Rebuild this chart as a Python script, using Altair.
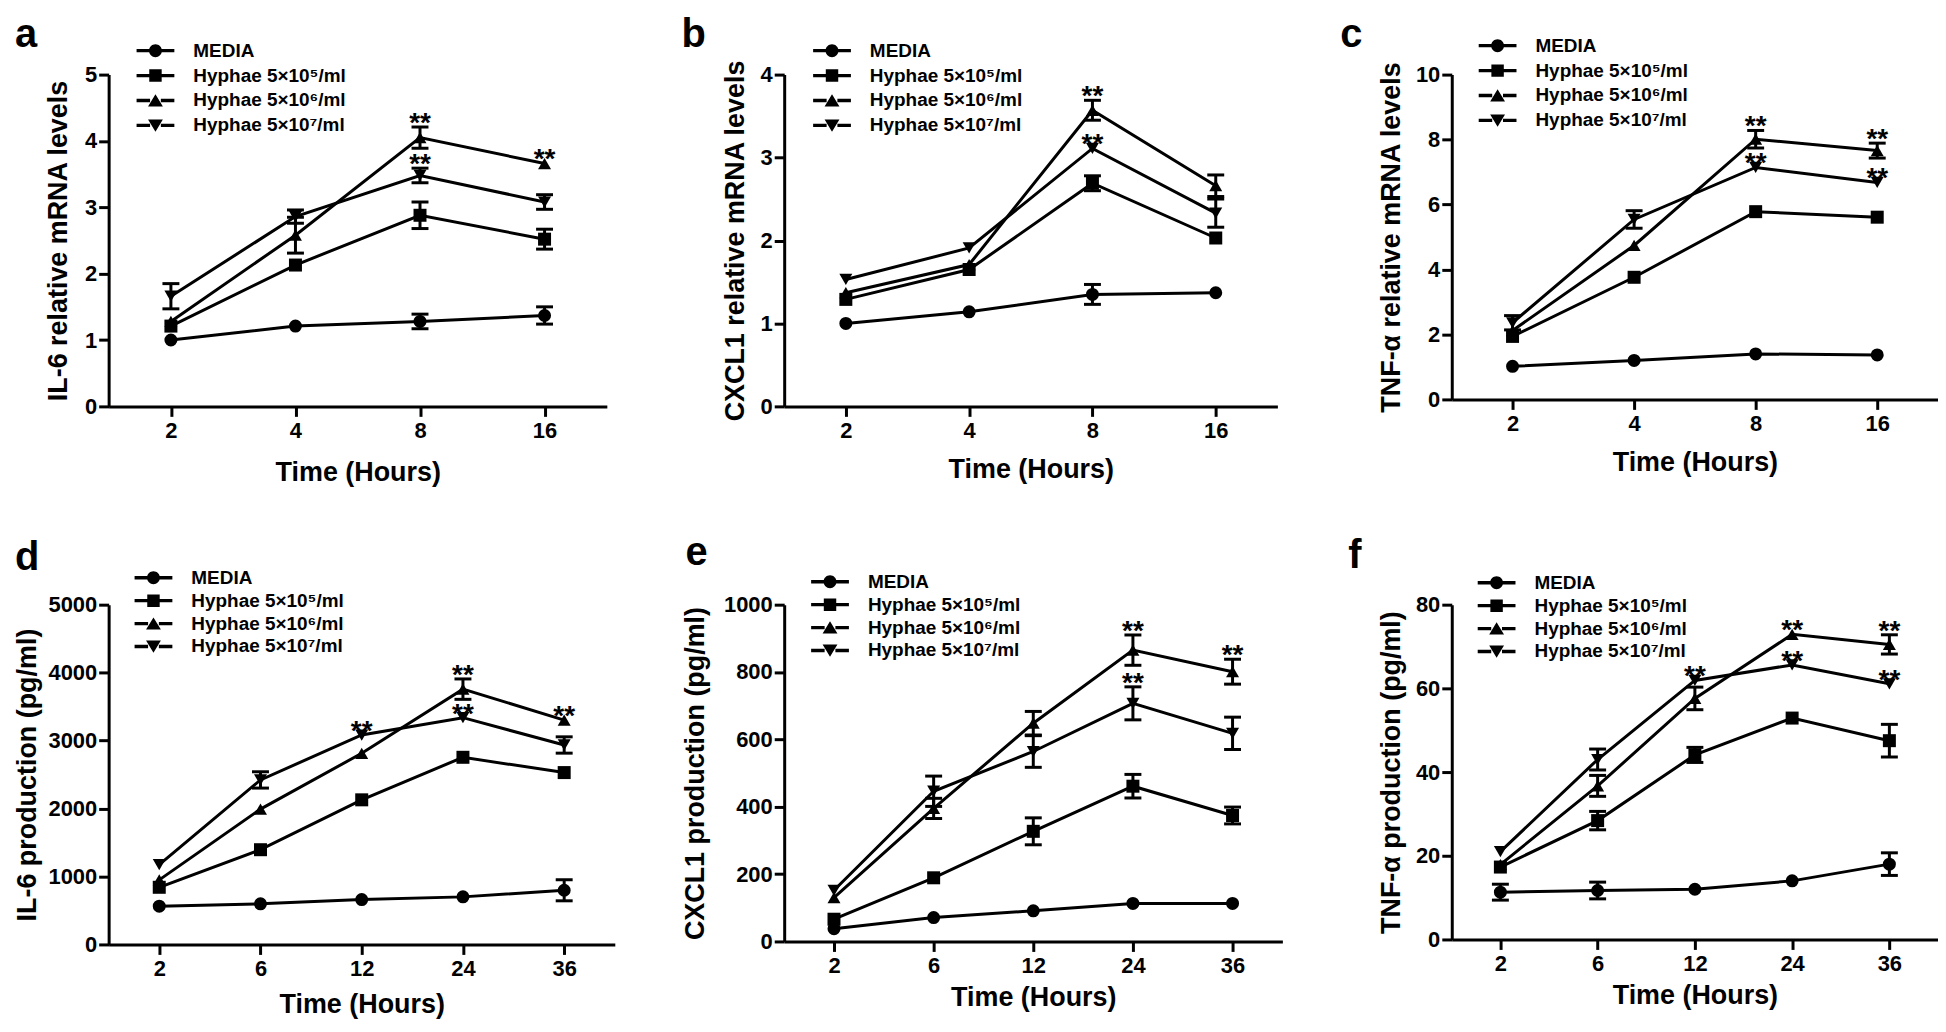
import altair as alt
import pandas as pd

FONT = "'Liberation Sans', Arial, sans-serif"

SERIES = ["MEDIA", "Hyphae 5×10⁵/ml", "Hyphae 5×10⁶/ml", "Hyphae 5×10⁷/ml"]
MARKERS = ["circle", "square", "triangle-up", "triangle-down"]
TIMES_MRNA = ["2", "4", "8", "16"]
TIMES_PROT = ["2", "6", "12", "24", "36"]

# a: IL-6 relative mRNA
A_MEAN = [[1.00, 1.21, 1.28, 1.37],
          [1.21, 2.13, 2.88, 2.52],
          [1.28, 2.58, 4.05, 3.66],
          [1.66, 2.86, 3.48, 3.08]]
A_ERR = [[0, 0, 0.11, 0.13],
         [0, 0, 0.20, 0.15],
         [0, 0.27, 0.16, 0],
         [0.19, 0.10, 0.11, 0.11]]
A_STARS = [("8", 2), ("8", 3), ("16", 2)]

# b: CXCL1 relative mRNA
B_MEAN = [[1.00, 1.14, 1.35, 1.37],
          [1.29, 1.65, 2.69, 2.03],
          [1.37, 1.71, 3.57, 2.66],
          [1.53, 1.91, 3.11, 2.33]]
B_ERR = [[0, 0, 0.12, 0],
         [0, 0, 0.09, 0],
         [0, 0, 0.12, 0.13],
         [0, 0, 0, 0.17]]
B_STARS = [("8", 2), ("8", 3)]

# c: TNF-a relative mRNA
C_MEAN = [[1.02, 1.20, 1.40, 1.37],
          [1.94, 3.76, 5.78, 5.61],
          [2.12, 4.74, 8.01, 7.66],
          [2.36, 5.54, 7.14, 6.68]]
C_ERR = [[0, 0, 0, 0],
         [0, 0, 0, 0],
         [0, 0, 0.27, 0.23],
         [0.22, 0.27, 0, 0]]
C_STARS = [("8", 2), ("8", 3), ("16", 2), ("16", 3)]

# d: IL-6 production
D_MEAN = [[563, 597, 660, 700, 797],
          [841, 1394, 2128, 2754, 2529],
          [950, 1991, 2813, 3757, 3302],
          [1174, 2421, 3082, 3337, 2935]]
D_ERR = [[0, 0, 0, 0, 155],
         [0, 0, 0, 0, 0],
         [0, 0, 0, 150, 0],
         [0, 120, 0, 0, 120]]
D_STARS = [("12", 3), ("24", 2), ("24", 3), ("36", 2)]

# e: CXCL1 production
E_MEAN = [[38, 71, 91, 113, 113],
          [66, 189, 327, 461, 374],
          [130, 395, 648, 865, 801],
          [152, 446, 564, 707, 618]]
E_ERR = [[0, 0, 0, 0, 0],
         [0, 0, 40, 35, 25],
         [0, 30, 35, 45, 37],
         [0, 45, 47, 49, 48]]
E_STARS = [("24", 2), ("24", 3), ("36", 2)]

# f: TNF-a production
F_MEAN = [[11.3, 11.7, 12.0, 14.0, 18.0],
          [17.3, 28.4, 44.1, 52.9, 47.5],
          [17.9, 36.7, 57.6, 72.9, 70.5],
          [21.0, 43.0, 61.9, 65.6, 61.1]]
F_ERR = [[1.9, 2.0, 0, 0, 2.7],
         [0, 2.2, 1.8, 0, 3.9],
         [0, 2.5, 2.7, 0, 2.3],
         [0, 2.5, 0, 0, 0]]
F_STARS = [("12", 3), ("24", 2), ("24", 3), ("36", 2), ("36", 3)]

# legend glyphs: short line with the marker in the middle (unit = 12 px)
LEG_LINE = "M-1.58,-0.14H-0.45V0.14H-1.58Z M0.45,-0.14H1.58V0.14H0.45Z "
LEGEND_PATHS = [
    LEG_LINE + "M-0.54,0A0.54,0.54 0 1,1 0.54,0A0.54,0.54 0 1,1 -0.54,0Z",
    LEG_LINE + "M-0.52,-0.52H0.52V0.52H-0.52Z",
    LEG_LINE + "M0,-0.52L0.62,0.5H-0.62Z",
    LEG_LINE + "M-0.62,-0.5H0.62L0,0.52Z",
]


def make_panel(letter, times, means, errs, stars, ytitle, ymax, ystep,
               width, height, legend_x, legend_y, legend_pad,
               title_dx, title_dy, ytitle_pad, xtitle_pad):
    rows = []
    for si, s in enumerate(SERIES):
        for ti, t in enumerate(times):
            m = means[si][ti]
            e = errs[si][ti]
            rows.append({"time": t, "series": s, "mean": m, "lo": m - e,
                         "hi": m + e, "err": e, "star": (t, si) in stars})
    df = pd.DataFrame(rows)
    yvals = list(range(0, ymax + 1, ystep))
    x = alt.X("time:N", sort=times, scale=alt.Scale(type="point", padding=0.5),
              title="Time (Hours)",
              axis=alt.Axis(labelAngle=0, titlePadding=xtitle_pad))
    yscale = alt.Scale(domain=[0, ymax], nice=False, zero=True)
    yaxis = alt.Axis(values=yvals, format="d", titlePadding=ytitle_pad)

    def Y(field):
        return alt.Y(f"{field}:Q", scale=yscale, title=ytitle, axis=yaxis)

    base = alt.Chart(df)
    line = base.mark_line(color="black", strokeWidth=3).encode(
        x=x, y=Y("mean"), detail="series:N")
    errb = base.transform_filter("datum.err > 0")
    rule = errb.mark_rule(color="black", strokeWidth=3).encode(
        x=x, y=Y("lo"), y2="hi:Q")
    cap_lo = errb.mark_tick(color="black", thickness=3, size=17, opacity=1).encode(
        x=x, y=Y("lo"))
    cap_hi = errb.mark_tick(color="black", thickness=3, size=17, opacity=1).encode(
        x=x, y=Y("hi"))
    pts = base.mark_point(filled=True, color="black", opacity=1, size=170).encode(
        x=x, y=Y("mean"),
        shape=alt.Shape("series:N", scale=alt.Scale(domain=SERIES, range=MARKERS),
                        legend=None))
    leg = base.mark_point(filled=True, color="black", opacity=0, size=576).encode(
        x=x, y=Y("mean"),
        shape=alt.Shape("series:N",
                        scale=alt.Scale(domain=SERIES, range=LEGEND_PATHS),
                        legend=alt.Legend(title=None, orient="none",
                                          legendX=legend_x, legendY=legend_y,
                                          rowPadding=legend_pad,
                                          symbolSize=576, symbolOpacity=1,
                                          symbolStrokeWidth=0,
                                          symbolFillColor="black",
                                          labelOffset=26, labelLimit=400)))
    star = base.transform_filter("datum.star").mark_text(
        text="**", font=FONT, fontSize=28, fontWeight="bold", color="black",
        baseline="alphabetic", dy=5).encode(x=x, y=Y("hi"))
    return alt.layer(line, rule, cap_lo, cap_hi, pts, leg, star).resolve_scale(
        shape="independent").properties(
        width=width, height=height,
        title=alt.TitleParams(text=letter, anchor="start", frame="group",
                              dx=title_dx, dy=title_dy, fontSize=40,
                              font=FONT, fontWeight="bold", color="black",
                              offset=0))


panels = [
    make_panel("a", TIMES_MRNA, A_MEAN, A_ERR, A_STARS, "IL-6 relative mRNA levels",
               5, 1, 500, 333, 35, -36, 3, -94, 16, 12, 18),
    make_panel("b", TIMES_MRNA, B_MEAN, B_ERR, B_STARS, "CXCL1 relative mRNA levels",
               4, 1, 495, 333, 36, -36, 3, -103, 16, 11, 15),
    make_panel("c", TIMES_MRNA, C_MEAN, C_ERR, C_STARS, "TNF-α relative mRNA levels",
               10, 2, 488, 326, 34, -41, 3, -112, 21, 10, 15),
    make_panel("d", TIMES_PROT, D_MEAN, D_ERR, D_STARS, "IL-6 production (pg/ml)",
               5000, 1000, 508, 341, 33, -39, 1, -94, 12, 6, 12),
    make_panel("e", TIMES_PROT, E_MEAN, E_ERR, E_STARS, "CXCL1 production (pg/ml)",
               1000, 200, 500, 338, 34, -35, 1, -99, 3, 14, 8),
    make_panel("f", TIMES_PROT, F_MEAN, F_ERR, F_STARS, "TNF-α production (pg/ml)",
               80, 20, 488, 336, 33, -34, 1, -104, 5, 10, 8),
]

chart = alt.concat(*panels, columns=3, spacing={"row": 199, "column": 170},
                   bounds="flush", align="each").properties(
    padding={"left": 6, "top": 5, "right": 0, "bottom": 0}
).configure_view(stroke=None).configure_axis(
    domainColor="black", domainWidth=3, tickColor="black", tickWidth=3,
    tickSize=10, grid=False, labelFont=FONT, labelFontSize=22,
    labelFontWeight="bold", labelColor="black", titleFont=FONT,
    titleFontSize=27, titleFontWeight="bold", titleColor="black"
).configure_axisY(
    labelPadding=2
).configure_axisX(
    labelPadding=4
).configure_legend(
    labelFont=FONT, labelFontSize=19, labelFontWeight="bold",
    labelColor="black", padding=0
)

chart.save("out.html", embed_options={"renderer": "svg", "actions": False})
